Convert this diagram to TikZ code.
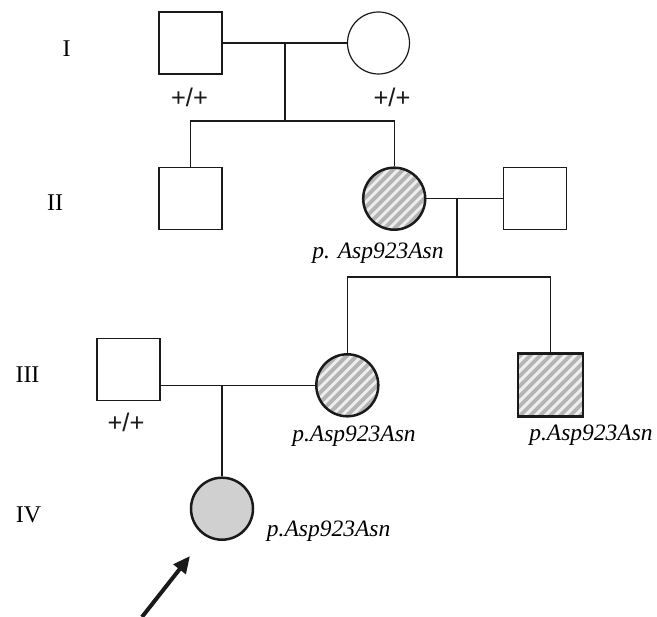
\documentclass[tikz,border=0pt]{standalone}
\usepackage{fontspec}
\setmainfont{Liberation Serif}
\newfontfamily\genofont{Liberation Sans}
\usetikzlibrary{arrows.meta,calc}
\definecolor{stripegray}{HTML}{B4B4B4}
\definecolor{hatchbg}{HTML}{EEEEEE}
\definecolor{ivfill}{HTML}{D0D0D0}
\definecolor{inkline}{HTML}{1A1A1A}
\tikzset{
  conn/.style={draw=inkline, line width=1.2pt},
  male/.style={draw=inkline, line width=1.2pt, rectangle, minimum width=63pt, minimum height=62pt, inner sep=0pt},
  female/.style={draw=inkline, line width=1.2pt, circle, minimum size=62pt, inner sep=0pt},
  affected/.style={line width=2.5pt, fill=hatchbg,
    path picture={
      \foreach \i in {-10,...,10}
        \draw[stripegray, line width=3.8pt]
          ([shift={(\i*10pt-60pt,-60pt)}]path picture bounding box.center) -- ++(120pt,120pt);
    }},
  proband/.style={line width=2.5pt, fill=ivfill},
  gen/.style={font=\fontsize{24}{28}\selectfont, inner sep=0pt},
  geno/.style={font=\genofont\fontsize{25.5}{28}\selectfont, inner sep=0pt, text=inkline},
  var/.style={font=\fontsize{23.5}{27}\selectfont\itshape, inner sep=0pt},
}
\begin{document}
\begin{tikzpicture}[x=1pt, y=-1pt]
\useasboundingbox (0,0) rectangle (657,617);
% generation labels
\node[gen] (gI) at (66.5,49) {I};
\node[gen] (gII) at (55,203) {II};
\node[gen] (gIII) at (27.5,375) {III};
\node[gen] (gIV) at (28.5,515) {IV};
% individuals
\node[male] (I1) at (190.5,43) {};
\node[female] (I2) at (378.5,43) {};
\node[male] (II1) at (190.5,198.7) {};
\node[female, affected] (II2) at (394.2,198.7) {};
\node[male] (II3) at (535,198.7) {};
\node[male] (III1) at (128.5,369.5) {};
\node[female, affected] (III2) at (347.3,385.3) {};
\node[male, affected, minimum width=65pt, minimum height=63pt] (III3) at (550.7,385) {};
\node[female, proband] (IV1) at (222,508.7) {};
% genotype labels
\node[geno] (tI1) at (189.5,97) {+/+};
\node[geno] (tI2) at (392,97) {+/+};
\node[geno] (tIII1) at (126,422.5) {+/+};
\node[var] (tII2) at (378,253.5) {p. Asp923Asn};
\node[var] (tIII2) at (354,436) {p.Asp923Asn};
\node[var] (tIII3) at (591,435) {p.Asp923Asn};
\node[var] (tIV1) at (328.6,531.7) {p.Asp923Asn};
% generation I -> II
\coordinate (m1) at (285,43);
\coordinate (s1) at (285,121);
\draw[conn] (I1.east) -- (I2.west);
\draw[conn] (m1) -- (s1);
\draw[conn] (II1.north) -- (II1.north |- s1) -- (II2.north |- s1) -- (II2.north);
% generation II -> III
\coordinate (m2) at (457,199.3);
\coordinate (s2) at (457,277);
\draw[conn] (II2.east) -- (II3.west);
\draw[conn] (m2) -- (s2);
\draw[conn] (III2.north) -- (III2.north |- s2) -- (III3.north |- s2) -- (III3.north);
% generation III -> IV
\coordinate (m3) at (222,385.3);
\draw[conn] (III1.east |- III2.west) -- (III2.west);
\draw[conn] (m3) -- (IV1.north);
% proband arrow
\coordinate (atail) at (142,617);
\coordinate (ahead) at (190,556);
\draw[inkline, line width=4pt, -{Triangle[length=17pt, width=15pt]}] (atail) -- (ahead);
\end{tikzpicture}
\end{document}
